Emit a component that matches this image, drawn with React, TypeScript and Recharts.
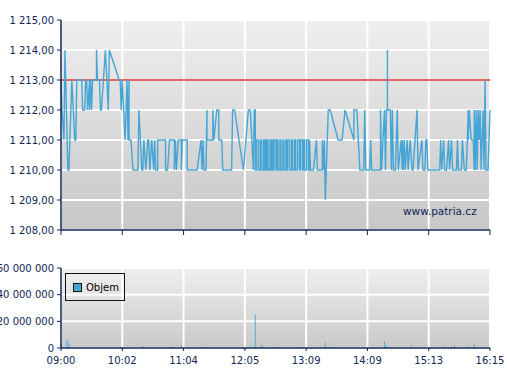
import React from "react";
import {
  LineChart, Line, BarChart, Bar, XAxis, YAxis, CartesianGrid, ReferenceLine,
} from "recharts";

// x axis: minutes after 09:00 (session 09:00 - 16:15)
const sessionLength = 435;
const xTickLabels = ["09:00", "10:02", "11:04", "12:05", "13:09", "14:09", "15:13", "16:15"];
const priceTicks = [1208, 1209, 1210, 1211, 1212, 1213, 1214, 1215];
const volumeTicks = [0, 20000000, 40000000, 60000000];
const referencePrice = 1213;

// trades, minute after open + price
const tradeMinutes = [
  0, 1, 3, 4, 7, 8, 9, 11, 14, 15, 16, 18, 21, 22, 24, 25, 26, 27, 29, 29, 30, 31, 32, 36, 36, 37, 39, 40, 41, 45, 48, 49, 59, 60, 61, 62, 65, 67, 68, 69, 69, 71,
  73, 78, 79, 82, 83, 84, 86, 88, 89, 90, 92, 94, 95, 96, 98, 98, 101, 104, 106, 106, 108, 110, 115, 115, 116, 117, 119, 122, 122, 123, 128, 128, 138, 142, 143, 144, 145, 147, 148, 148, 154, 154, 155, 158, 160, 160, 163, 164, 173, 174, 176, 185, 190, 192, 195, 196, 197, 197,
  198, 198, 200, 200, 202, 202, 203, 203, 205, 205, 206, 206, 207, 207, 208, 208, 209, 209, 210, 210,
  212, 212, 213, 213, 214, 214, 215, 215, 216, 216, 218, 218, 219, 219, 220, 220, 222, 222, 223, 223,
  225, 225, 226, 226, 228, 228, 229, 229, 230, 230, 232, 232, 234, 234, 235, 235, 237, 237, 238, 238,
  240, 240, 242, 242, 243, 243, 245, 245, 246, 246, 247, 247, 249, 249, 251, 251, 252, 252,
  253, 256, 259, 260, 265, 265, 266, 267, 268, 271, 273, 281, 285, 288, 297, 297, 300, 303,
  307, 308, 309, 313, 314, 315, 324, 324, 325, 328, 329, 330, 331, 331, 331, 334, 335, 336, 337, 339, 340, 341, 342, 345, 346, 346, 347, 348, 349, 351, 352, 354, 356, 357, 361, 362, 366, 367, 369, 370, 371, 372, 384,
  385, 386, 388, 389, 391, 393, 394, 396, 397, 401, 402, 403, 406, 407, 409, 411, 413, 413, 414, 416, 418, 419, 419, 420, 421, 422, 423, 424, 425, 426, 428, 429, 430, 431, 433, 435,
];
const tradePrices = [
  1213, 1212, 1211, 1214, 1210, 1210, 1211, 1213, 1211, 1211, 1213, 1213, 1213, 1212, 1212, 1213, 1213, 1212, 1213, 1212, 1213, 1212, 1213, 1213, 1214, 1213, 1213, 1212, 1212, 1214, 1212, 1214, 1213, 1213, 1212, 1213, 1211, 1213, 1211, 1213, 1211, 1211,
  1210, 1210, 1212, 1210, 1210, 1211, 1210, 1211, 1211, 1210, 1211, 1210, 1211, 1210, 1210, 1211, 1211, 1211, 1211, 1210, 1210, 1211, 1211, 1210, 1211, 1210, 1211, 1211, 1210, 1211, 1211, 1210, 1210, 1211, 1210, 1211, 1210, 1210, 1212, 1211, 1211, 1212, 1211, 1212, 1212, 1211, 1211, 1210, 1210, 1212, 1212, 1210, 1212, 1212, 1210, 1212, 1212, 1210,
  1210, 1211, 1211, 1210, 1210, 1211, 1211, 1210, 1210, 1211, 1211, 1210, 1210, 1211, 1211, 1210, 1210, 1211, 1211, 1210,
  1210, 1211, 1211, 1210, 1210, 1211, 1211, 1210, 1210, 1211, 1211, 1210, 1210, 1211, 1211, 1210, 1210, 1211, 1211, 1210,
  1210, 1211, 1211, 1210, 1210, 1211, 1211, 1210, 1210, 1211, 1211, 1210, 1210, 1211, 1211, 1210, 1210, 1211, 1211, 1210,
  1210, 1211, 1211, 1210, 1210, 1211, 1211, 1210, 1210, 1211, 1211, 1210, 1210, 1211, 1211, 1210, 1210, 1211,
  1210, 1210, 1211, 1210, 1210, 1211, 1210, 1211, 1209, 1212, 1212, 1211, 1211, 1212, 1211, 1212, 1212, 1210,
  1210, 1212, 1210, 1210, 1211, 1210, 1210, 1212, 1210, 1212, 1210, 1212, 1212, 1214, 1212, 1212, 1210, 1212, 1210, 1210, 1211, 1212, 1210, 1211, 1210, 1211, 1210, 1211, 1210, 1211, 1210, 1211, 1210, 1210, 1212, 1210, 1211, 1210, 1210, 1211, 1211, 1210, 1210,
  1211, 1210, 1211, 1210, 1210, 1211, 1210, 1211, 1210, 1210, 1211, 1210, 1210, 1211, 1210, 1210, 1212, 1211, 1212, 1211, 1211, 1210, 1212, 1210, 1212, 1210, 1212, 1211, 1212, 1210, 1212, 1210, 1213, 1210, 1210, 1212,
];

// volume ("Objem")
const volumeMinutes = [0, 6, 8, 61, 83, 113, 114, 122, 148, 185, 197, 202, 204, 215, 246, 268, 271, 328, 330, 355, 388, 396, 399, 413, 419];
const volumeValues = [
  3000000, 6200000, 4000000, 800000, 1500000, 1000000, 1000000, 2500000, 800000, 800000,
  25000000, 1200000, 2500000, 800000, 800000, 4000000, 800000, 4800000, 1800000, 1800000,
  1000000, 1000000, 1800000, 1000000, 2800000,
];

const priceData = tradeMinutes.map((t, i) => ({ t, price: tradePrices[i] }));
const volumeData = volumeMinutes.map((t, i) => ({ t, vol: volumeValues[i] }));
const xTicks = xTickLabels.map((_, i) => (i * sessionLength) / (xTickLabels.length - 1));

const NAVY = "#0f2656";
const BLUE = "#45a6d6";
const FONT = "DejaVu Sans, Verdana, sans-serif";
const tickStyle = { fill: NAVY, fontSize: 10, fontFamily: FONT };

// non-breaking space as thousands separator so the tick text never wraps
const groupThousands = (n: number) => String(n).replace(/\B(?=(\d{3})+(?!\d))/g, "\u00a0");
const fmtPrice = (v: number) => `${groupThousands(Math.floor(v))},00`;
const fmtTime = (v: number) => xTickLabels[xTicks.indexOf(v)] ?? "";

export default function App() {
  return (
    <div style={{ position: "absolute", left: 0, top: 0, width: 507, height: 380, background: "#fff", fontFamily: FONT }}>
      <div style={{ position: "absolute", left: 0, top: 0 }}>
        <LineChart width={507} height={250} data={priceData} margin={{ top: 20, right: 17, bottom: 0, left: 0 }}>
          <defs>
            <linearGradient id="bgTop" x1="0" y1="0" x2="0" y2="1">
              <stop offset="0%" stopColor="#efefef" />
              <stop offset="100%" stopColor="#c7c7c7" />
            </linearGradient>
          </defs>
          <CartesianGrid fill="url(#bgTop)" stroke="#ffffff" strokeWidth={2} />
          <XAxis
            dataKey="t" type="number" domain={[0, sessionLength]} ticks={xTicks}
            tickFormatter={() => ""} height={20} tickSize={5}
            axisLine={{ stroke: NAVY, strokeWidth: 1.5 }} tickLine={{ stroke: NAVY }}
          />
          <YAxis
            type="number" domain={[1208, 1215]} ticks={priceTicks} width={61}
            tickFormatter={fmtPrice} tick={tickStyle} tickSize={4} tickMargin={3}
            axisLine={{ stroke: NAVY, strokeWidth: 1.5 }} tickLine={{ stroke: NAVY }}
          />
          <ReferenceLine y={referencePrice} stroke="#e0302a" strokeWidth={1.5} />
          <Line
            type="linear" dataKey="price" stroke={BLUE} strokeWidth={1.4}
            dot={false} isAnimationActive={false}
          />
        </LineChart>
      </div>
      <div style={{ position: "absolute", left: 403, top: 205, color: NAVY, fontSize: 10.5, fontFamily: FONT }}>
        www.patria.cz
      </div>
      <div style={{ position: "absolute", left: 0, top: 250 }}>
        <BarChart width={507} height={130} data={volumeData} margin={{ top: 18, right: 17, bottom: 12, left: 0 }}>
          <defs>
            <linearGradient id="bgVol" x1="0" y1="0" x2="0" y2="1">
              <stop offset="0%" stopColor="#efefef" />
              <stop offset="100%" stopColor="#c9c9c9" />
            </linearGradient>
          </defs>
          <CartesianGrid fill="url(#bgVol)" stroke="#ffffff" strokeWidth={2} />
          <XAxis
            dataKey="t" type="number" domain={[0, sessionLength]} ticks={xTicks}
            tickFormatter={fmtTime} tick={tickStyle} height={20} tickSize={3} tickMargin={6}
            axisLine={{ stroke: NAVY, strokeWidth: 1.5 }} tickLine={{ stroke: NAVY }}
            interval={0}
          />
          <YAxis
            type="number" domain={[0, 60000000]} ticks={volumeTicks} width={61}
            tickFormatter={(v: number) => groupThousands(v)} tick={tickStyle} tickSize={4} tickMargin={3}
            axisLine={{ stroke: NAVY, strokeWidth: 1.5 }} tickLine={{ stroke: NAVY }}
          />
          <Bar dataKey="vol" fill={BLUE} barSize={2} isAnimationActive={false} />
        </BarChart>
      </div>
      <div
        style={{
          position: "absolute", left: 65, top: 273, width: 58, height: 26,
          border: "1px solid #111", display: "flex", alignItems: "center",
          fontSize: 10, color: "#000", fontFamily: FONT,
        }}
      >
        <span style={{ display: "inline-block", width: 7, height: 7, background: BLUE, border: "1px solid #111", marginLeft: 7, marginRight: 4 }} />
        Objem
      </div>
    </div>
  );
}
